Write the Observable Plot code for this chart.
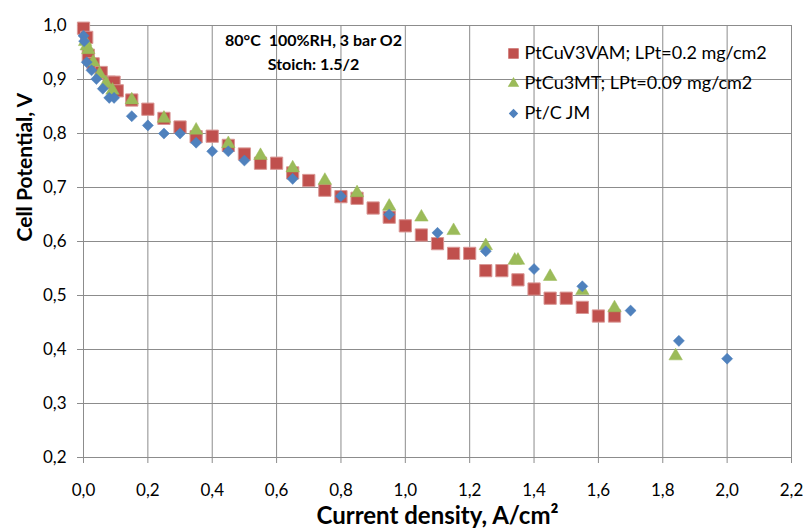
<!DOCTYPE html>
<html><head><meta charset="utf-8">
<script src="https://cdn.jsdelivr.net/npm/d3@7"></script>
<script src="https://cdn.jsdelivr.net/npm/@observablehq/plot@0.6"></script>
<style>body{margin:0;background:#fff;} #chart{position:relative;width:803px;height:529px;}</style>
</head><body><div id="chart"></div>
<script>
const seriesNames = ["PtCuV3VAM; LPt=0.2 mg/cm2", "PtCu3MT; LPt=0.09 mg/cm2", "Pt/C JM"];
const annotationLines = ["80°C  100%RH, 3 bar O2", "Stoich: 1.5/2"];
const xTitle = "Current density, A/cm²";
const yTitle = "Cell Potential, V";
const xTicks = [0, 0.2, 0.4, 0.6, 0.8, 1.0, 1.2, 1.4, 1.6, 1.8, 2.0, 2.2];
const yTicks = [0.2, 0.3, 0.4, 0.5, 0.6, 0.7, 0.8, 0.9, 1.0];

const redX = [0, 0.01, 0.015, 0.03, 0.055, 0.08, 0.095, 0.105, 0.15, 0.2, 0.25, 0.3, 0.35, 0.4, 0.45, 0.5, 0.55, 0.6, 0.65, 0.7, 0.75, 0.8, 0.85, 0.9, 0.95, 1.0, 1.05, 1.1, 1.15, 1.2, 1.25, 1.3, 1.35, 1.4, 1.45, 1.5, 1.55, 1.6, 1.65];
const redY = [0.995, 0.978, 0.945, 0.929, 0.913, 0.895, 0.895, 0.879, 0.862, 0.845, 0.828, 0.812, 0.794, 0.795, 0.778, 0.762, 0.745, 0.745, 0.727, 0.713, 0.695, 0.683, 0.68, 0.662, 0.645, 0.629, 0.612, 0.596, 0.578, 0.578, 0.546, 0.546, 0.529, 0.512, 0.495, 0.495, 0.478, 0.462, 0.462];

const greenX = [0.005, 0.01, 0.015, 0.03, 0.05, 0.07, 0.09, 0.15, 0.25, 0.35, 0.45, 0.55, 0.65, 0.75, 0.85, 0.95, 1.05, 1.15, 1.25, 1.34, 1.35, 1.45, 1.55, 1.65, 1.84];
const greenY = [0.97, 0.962, 0.955, 0.932, 0.91, 0.893, 0.88, 0.862, 0.828, 0.806, 0.781, 0.759, 0.736, 0.713, 0.69, 0.665, 0.645, 0.62, 0.592, 0.565, 0.565, 0.535, 0.509, 0.477, 0.388];

const blueX = [0, 0.002, 0.01, 0.025, 0.04, 0.06, 0.08, 0.095, 0.15, 0.2, 0.25, 0.3, 0.35, 0.4, 0.45, 0.5, 0.65, 0.8, 0.95, 1.1, 1.25, 1.4, 1.55, 1.7, 1.85, 2.0];
const blueY = [0.981, 0.971, 0.932, 0.917, 0.901, 0.883, 0.866, 0.866, 0.832, 0.815, 0.8, 0.8, 0.783, 0.767, 0.767, 0.75, 0.716, 0.684, 0.65, 0.616, 0.582, 0.549, 0.517, 0.472, 0.416, 0.383];

const colors = ["#C0504D", "#9BBB59", "#4F81BD"];
const strokes = ["#D99795", "#9BBB59", "#4F81BD"];
const symbols = ["square", "triangle", "diamond2"];
const radii = [6.9, 5.0, 5.0];

const zip = (xs, ys) => xs.map((x, i) => ({x, y: ys[i]}));
const series = [zip(redX, redY), zip(greenX, greenY), zip(blueX, blueY)];

const fmt = d => d.toFixed(1).replace(".", ",");
const grid = "#8C8C8C";
const font = "Lato, 'Open Sans', sans-serif";

const marks = [
  Plot.gridX(xTicks, {stroke: grid, strokeOpacity: 1, strokeWidth: 1}),
  Plot.gridY(yTicks, {stroke: grid, strokeOpacity: 1, strokeWidth: 1}),
  Plot.ruleX([0], {stroke: grid}),
  Plot.ruleY([0.2], {stroke: grid}),
  Plot.axisX(xTicks, {tickSize: 6, tickPadding: 20, stroke: grid, fill: "#000", fontSize: 17, fontFamily: font, tickFormat: fmt, label: null}),
  Plot.axisY(yTicks, {tickSize: 6, tickPadding: 11, stroke: grid, fill: "#000", fontSize: 17, fontFamily: font, tickFormat: fmt, label: null}),
];
series.forEach((s, i) => {
  marks.push(Plot.dot(s, {x: "x", y: "y", symbol: symbols[i], r: radii[i], fill: colors[i], stroke: strokes[i], strokeWidth: i === 0 ? 1 : 0.5}));
});
// legend
seriesNames.forEach((name, i) => {
  marks.push(Plot.dot([name], {frameAnchor: "top-left", dx: 430, dy: 28 + 30 * i, symbol: symbols[i], r: radii[i] * 0.85, fill: colors[i], stroke: null}));
  marks.push(Plot.text([name], {frameAnchor: "top-left", dx: 441, dy: 28 + 30 * i, text: d => d, textAnchor: "start", lineAnchor: "middle", fontSize: 18, fontFamily: font, fill: "#000"}));
});
// annotation
annotationLines.forEach((line, i) => {
  marks.push(Plot.text([line], {frameAnchor: "top-left", dx: 230, dy: 15 + 24 * i, text: d => d, textAnchor: "middle", lineAnchor: "middle", fontSize: 16, fontWeight: "bold", fontFamily: font, fill: "#000"}));
});
// axis titles
marks.push(Plot.text([xTitle], {frameAnchor: "bottom", dy: 59, lineAnchor: "middle", text: d => d, fontSize: 24, fontWeight: "bold", fontFamily: font, fill: "#000"}));
marks.push(Plot.text([yTitle], {frameAnchor: "left", dx: -58, rotate: -90, lineAnchor: "middle", text: d => d, fontSize: 21, fontWeight: "bold", fontFamily: font, fill: "#000"}));

const chart = Plot.plot({
  width: 803, height: 529,
  marginLeft: 83, marginRight: 12, marginTop: 25, marginBottom: 72,
  x: {domain: [0, 2.2]},
  y: {domain: [0.2, 1.0]},
  style: {fontFamily: font, background: "#fff", overflow: "visible"},
  marks
});
document.getElementById("chart").appendChild(chart);
</script></body></html>
